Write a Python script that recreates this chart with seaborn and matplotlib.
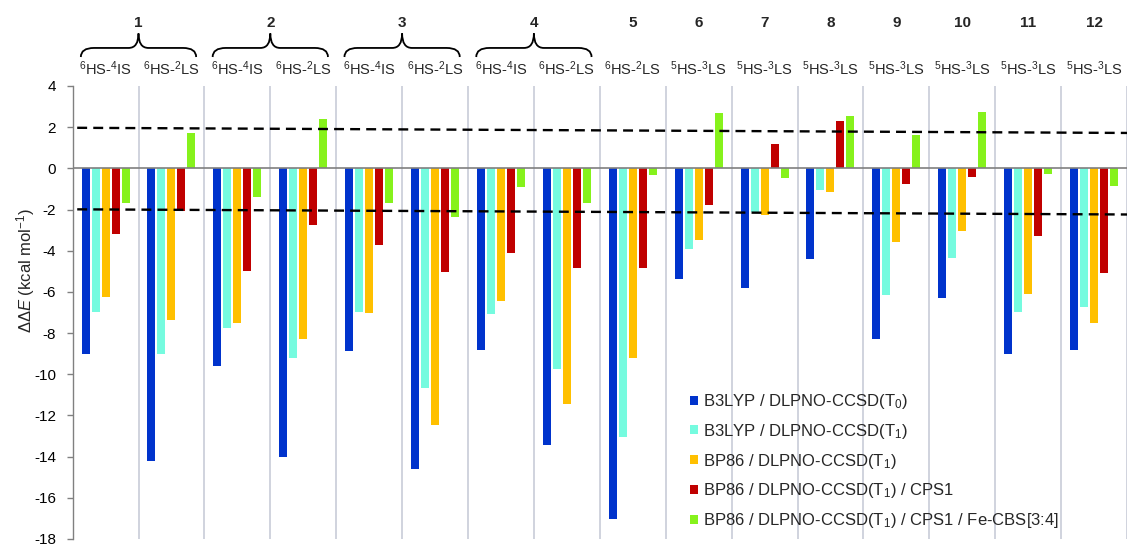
import numpy as np
import pandas as pd
import matplotlib
matplotlib.use("Agg")
import matplotlib.pyplot as plt
import seaborn as sns
from matplotlib.path import Path
from matplotlib.patches import PathPatch
import matplotlib.transforms as mtransforms

# ---------------- data ----------------
compounds = ["1", "1", "2", "2", "3", "3", "4", "4", "5", "6", "7", "8", "9", "10", "11", "12"]
transitions = [r"$^6$HS-$^4$IS", r"$^6$HS-$^2$LS", r"$^6$HS-$^4$IS", r"$^6$HS-$^2$LS",
               r"$^6$HS-$^4$IS", r"$^6$HS-$^2$LS", r"$^6$HS-$^4$IS", r"$^6$HS-$^2$LS",
               r"$^6$HS-$^2$LS", r"$^5$HS-$^3$LS", r"$^5$HS-$^3$LS", r"$^5$HS-$^3$LS",
               r"$^5$HS-$^3$LS", r"$^5$HS-$^3$LS", r"$^5$HS-$^3$LS", r"$^5$HS-$^3$LS"]
methods = [r"B3LYP / DLPNO-CCSD(T$_0$)",
           r"B3LYP / DLPNO-CCSD(T$_1$)",
           r"BP86 / DLPNO-CCSD(T$_1$)",
           r"BP86 / DLPNO-CCSD(T$_1$) / CPS1",
           r"BP86 / DLPNO-CCSD(T$_1$) / CPS1 / Fe-CBS[3:4]"]

b3lyp_t0 = [-9.0, -14.2, -9.6, -14.0, -8.87, -14.58, -8.83, -13.43, -17.04, -5.36, -5.83, -4.42, -8.30, -6.29, -9.0, -8.80]
b3lyp_t1 = [-7.0, -9.0, -7.74, -9.2, -6.97, -10.68, -7.05, -9.76, -13.07, -3.93, -2.10, -1.07, -6.13, -4.34, -6.99, -6.71]
bp86_t1 = [-6.23, -7.36, -7.52, -8.28, -7.04, -12.46, -6.44, -11.42, -9.19, -3.48, -2.28, -1.13, -3.56, -3.06, -6.08, -7.51]
bp86_cps1 = [-3.2, -2.07, -4.98, -2.77, -3.74, -5.02, -4.09, -4.82, -4.82, -1.76, 1.17, 2.28, -0.74, -0.44, -3.28, -5.07]
bp86_cps1_cbs = [-1.7, 1.73, -1.38, 2.41, -1.68, -2.36, -0.91, -1.70, -0.32, 2.70, -0.49, 2.54, 1.63, 2.73, -0.27, -0.86]

# dashed reference lines (value at left end, value at right end)
ref_left = [1.97, -1.99]
ref_right = [1.72, -2.24]

colors = ["#0033CC", "#75FBDF", "#FFC000", "#C00000", "#86F21C"]

# ---------------- build table ----------------
series = [b3lyp_t0, b3lyp_t1, bp86_t1, bp86_cps1, bp86_cps1_cbs]
pair_ids = [f"{c}|{i}" for i, c in enumerate(compounds)]
rows = []
for m, vals in zip(methods, series):
    for pid, v in zip(pair_ids, vals):
        rows.append({"pair": pid, "method": m, "value": v})
df = pd.DataFrame(rows)

# ---------------- style ----------------
sns.set_theme(style="white")
plt.rcParams["font.family"] = ["Liberation Sans", "DejaVu Sans"]
plt.rcParams["mathtext.fontset"] = "custom"
plt.rcParams["mathtext.rm"] = "Liberation Sans"
plt.rcParams["mathtext.it"] = "Liberation Sans:italic"
plt.rcParams["mathtext.bf"] = "Liberation Sans:bold"

fig = plt.figure(figsize=(11.27, 5.47), dpi=100)
ax = fig.add_axes([72.6 / 1127, 8 / 547, (1127 - 72.6) / 1127, 453 / 547])

sns.barplot(data=df, x="pair", y="value", hue="method", order=pair_ids,
            hue_order=methods, palette=colors, width=0.76, gap=0.2,
            linewidth=0, saturation=1, ax=ax, errorbar=None)

n = len(pair_ids)
ax.set_xlim(-0.5, n - 0.5)
ax.set_ylim(-18, 4)
ax.set_yticks(np.arange(-18, 5, 2))
ax.set_yticklabels([f"{t:d}" for t in range(-18, 5, 2)])
ax.tick_params(axis="y", direction="out", length=4, width=1, color="#808080",
               labelsize=11, pad=8, left=True, labelcolor="#000000")
ax.tick_params(axis="x", bottom=False, labelbottom=False)
ax.set_xlabel("")

for s in ["top", "right", "bottom"]:
    ax.spines[s].set_visible(False)
ax.spines["left"].set_color("#808080")
ax.spines["left"].set_linewidth(1)

# group separators
ax.vlines(np.arange(n) + 0.5, -18, 4, colors="#c8ccd8", linewidth=1.2, zorder=0,
          clip_on=False)
# zero line
ax.axhline(0, color="#7f7f7f", linewidth=1.2, zorder=3)

# dashed reference lines
for l, r in zip(ref_left, ref_right):
    ax.plot([-0.43, n - 0.5], [l, r], color="black", linestyle=(0, (4.2, 2.6)),
            linewidth=1.7, zorder=4, clip_on=False)

ax.set_ylabel(r"ΔΔ$E$ (kcal mol$^{-1}$)", fontsize=12)
ax.yaxis.set_label_coords(-0.034, 0.5916)

# ---------------- top labels ----------------
trans = mtransforms.blended_transform_factory(ax.transData, ax.transAxes)
for i, t in enumerate(transitions):
    ax.text(i, 1.024, t, transform=trans, ha="center", va="baseline", fontsize=10.5)

uniq = []
for c in compounds:
    if c not in uniq:
        uniq.append(c)
for c in uniq:
    idx = [i for i, cc in enumerate(compounds) if cc == c]
    xc = np.mean(idx)
    ax.text(xc, 1.131, c, transform=trans, ha="center", va="baseline",
            fontsize=11, fontweight="bold")
    if len(idx) > 1:
        xl, xr = xc - 0.875, xc + 0.875
        ye, yh, yt = 1.064, 1.084, 1.116
        r1, r2 = 0.2, 0.15
        verts = [(xl, ye), (xl, yh), (xl + r1, yh),
                 (xc - r2, yh),
                 (xc, yh), (xc, yt),
                 (xc, yh), (xc + r2, yh),
                 (xr - r1, yh),
                 (xr, yh), (xr, ye)]
        codes = [Path.MOVETO, Path.CURVE3, Path.CURVE3,
                 Path.LINETO,
                 Path.CURVE3, Path.CURVE3,
                 Path.CURVE3, Path.CURVE3,
                 Path.LINETO,
                 Path.CURVE3, Path.CURVE3]
        patch = PathPatch(Path(verts, codes), transform=trans, fill=False,
                          edgecolor="black", linewidth=1.3, clip_on=False)
        ax.add_patch(patch)

# ---------------- legend ----------------
handles, labels = ax.get_legend_handles_labels()
ax.legend(handles, labels, loc="upper left",
          bbox_to_anchor=(690 / 1127, 1 - 392 / 547), bbox_transform=fig.transFigure,
          frameon=False, fontsize=12, handlelength=0.45, handleheight=0.45,
          handletextpad=0.35, labelspacing=0.65, borderpad=0, borderaxespad=0)

fig.savefig("out.png", dpi=100)
